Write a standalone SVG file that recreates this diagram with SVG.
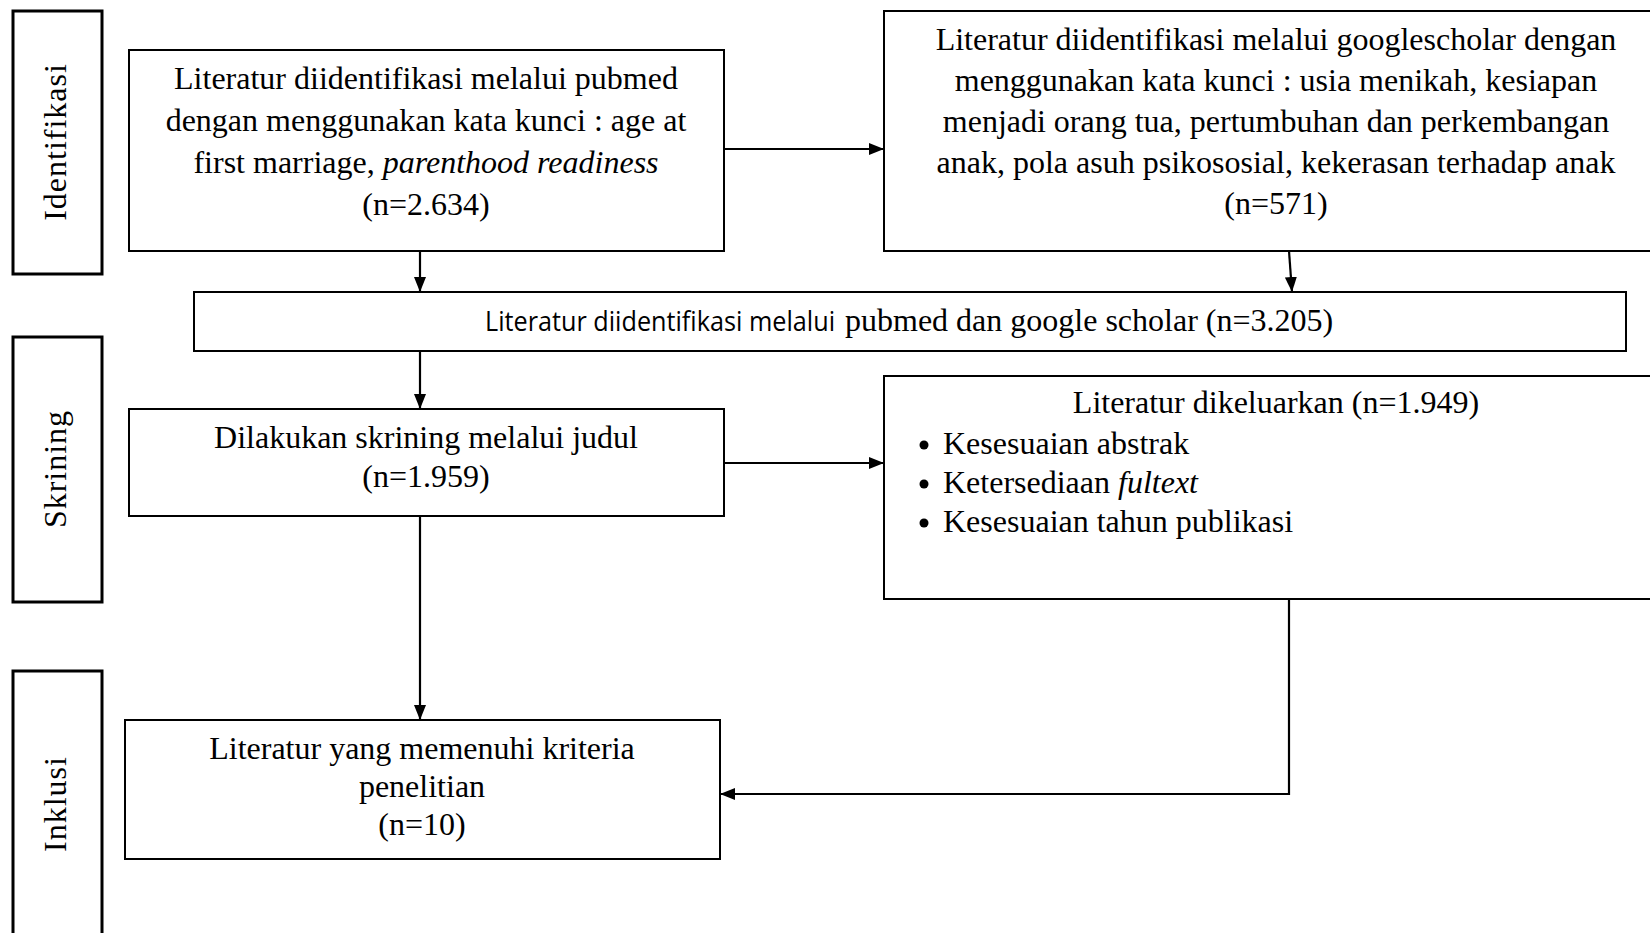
<svg xmlns="http://www.w3.org/2000/svg" width="1650" height="933" viewBox="0 0 1650 933">
  <style>
    .bg { fill: #ffffff; }
    .box { fill: #ffffff; stroke: #000000; stroke-width: 2; }
    .lbl { fill: #ffffff; stroke: #000000; stroke-width: 3; }
    .t { font-family: "Liberation Serif", "Times New Roman", serif; font-size: 32px; fill: #000000; }
    .c { text-anchor: middle; }
    .rot { font-family: "Liberation Serif", "Times New Roman", serif; font-size: 32px; fill: #000000; text-anchor: middle; letter-spacing: 1px; }
    .sans { font-family: "Open Sans", "Liberation Sans", sans-serif; font-size: 27px; fill: #000000; }
    .conn { fill: none; stroke: #000000; stroke-width: 2.2; }
  </style>
  <defs>
    <marker id="arr" viewBox="0 0 15 12" refX="15" refY="6" markerWidth="15" markerHeight="12" markerUnits="userSpaceOnUse" orient="auto">
      <path d="M0,0 L15,6 L0,12 z" fill="#000000"/>
    </marker>
  </defs>
  <rect class="bg" x="0" y="0" width="1650" height="933"/>

  <g id="label-identifikasi">
    <rect class="lbl" x="13" y="11" width="89" height="263"/>
    <text class="rot" transform="translate(66,142) rotate(-90)">Identifikasi</text>
  </g>
  <g id="label-skrining">
    <rect class="lbl" x="13" y="337" width="89" height="265"/>
    <text class="rot" transform="translate(66,469) rotate(-90)">Skrining</text>
  </g>
  <g id="label-inklusi">
    <rect class="lbl" x="13" y="671" width="89" height="280"/>
    <text class="rot" transform="translate(66,804) rotate(-90)">Inklusi</text>
  </g>

  <g id="node-pubmed">
    <rect class="box" x="129" y="50" width="595" height="201"/>
    <text class="t c" x="426" y="89">Literatur diidentifikasi melalui pubmed</text>
    <text class="t c" x="426" y="131">dengan menggunakan kata kunci : age at</text>
    <text class="t c" x="426" y="173">first marriage, <tspan font-style="italic">parenthood readiness</tspan></text>
    <text class="t c" x="426" y="215">(n=2.634)</text>
  </g>

  <g id="node-googlescholar">
    <rect class="box" x="884" y="11" width="780" height="240"/>
    <text class="t c" x="1276" y="50">Literatur diidentifikasi melalui googlescholar dengan</text>
    <text class="t c" x="1276" y="91">menggunakan kata kunci : usia menikah, kesiapan</text>
    <text class="t c" x="1276" y="132">menjadi orang tua, pertumbuhan dan perkembangan</text>
    <text class="t c" x="1276" y="173">anak, pola asuh psikososial, kekerasan terhadap anak</text>
    <text class="t c" x="1276" y="214">(n=571)</text>
  </g>

  <g id="node-combined">
    <rect class="box" x="194" y="292" width="1432" height="59"/>
    <text class="sans" x="485" y="331" textLength="350" lengthAdjust="spacingAndGlyphs">Literatur diidentifikasi melalui</text>
    <text class="t" x="845" y="331">pubmed dan google scholar (n=3.205)</text>
  </g>

  <g id="node-screening">
    <rect class="box" x="129" y="409" width="595" height="107"/>
    <text class="t c" x="426" y="448">Dilakukan skrining melalui judul</text>
    <text class="t c" x="426" y="487">(n=1.959)</text>
  </g>

  <g id="node-excluded">
    <rect class="box" x="884" y="376" width="780" height="223"/>
    <text class="t c" x="1276" y="413">Literatur dikeluarkan (n=1.949)</text>
    <circle cx="924" cy="445" r="4.5" fill="#000000"/>
    <text class="t" x="943" y="454">Kesesuaian abstrak</text>
    <circle cx="924" cy="484" r="4.5" fill="#000000"/>
    <text class="t" x="943" y="493">Ketersediaan <tspan font-style="italic">fultext</tspan></text>
    <circle cx="924" cy="523" r="4.5" fill="#000000"/>
    <text class="t" x="943" y="532">Kesesuaian tahun publikasi</text>
  </g>

  <g id="node-included">
    <rect class="box" x="125" y="720" width="595" height="139"/>
    <text class="t c" x="422" y="759">Literatur yang memenuhi kriteria</text>
    <text class="t c" x="422" y="797">penelitian</text>
    <text class="t c" x="422" y="835">(n=10)</text>
  </g>

  <g id="connectors">
    <line class="conn" x1="724" y1="149" x2="884" y2="149" marker-end="url(#arr)"/>
    <line class="conn" x1="420" y1="251" x2="420" y2="292" marker-end="url(#arr)"/>
    <line class="conn" x1="1289" y1="251" x2="1292" y2="292" marker-end="url(#arr)"/>
    <line class="conn" x1="420" y1="351" x2="420" y2="409" marker-end="url(#arr)"/>
    <line class="conn" x1="724" y1="463" x2="884" y2="463" marker-end="url(#arr)"/>
    <line class="conn" x1="420" y1="516" x2="420" y2="720" marker-end="url(#arr)"/>
    <polyline class="conn" points="1289,599 1289,794 720,794" marker-end="url(#arr)"/>
  </g>
</svg>
